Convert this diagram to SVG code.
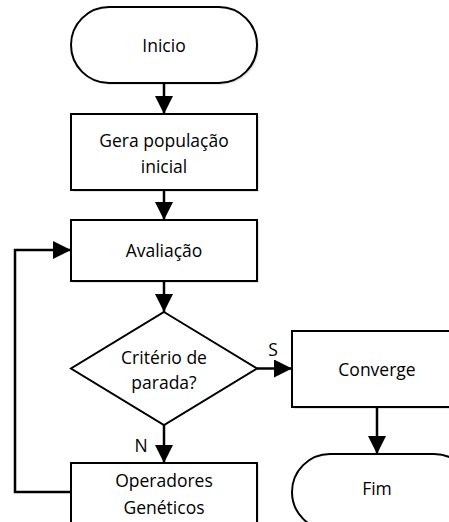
<svg xmlns="http://www.w3.org/2000/svg" width="449" height="522" viewBox="0 0 449 522">
<defs>
<style>
.s{fill:#fff;stroke:#000;stroke-width:2}
.sh{fill:#e6e6e6;stroke:none}
.t{font-family:"Open Sans","Liberation Sans",sans-serif;font-size:17.5px;fill:#000;text-anchor:middle;dominant-baseline:central}
.c{fill:none;stroke:#000;stroke-width:2.5}
</style>
<marker id="a" markerWidth="18" markerHeight="18" viewBox="0 0 18 18" refX="18" refY="9" orient="auto" markerUnits="userSpaceOnUse">
<path d="M0,0 L18,9 L0,18 Z" fill="#000"/>
</marker>
</defs>
<g id="inicio">
<rect class="sh" x="73" y="9" width="186" height="76" rx="38"/>
<rect class="s" x="71" y="7" width="186" height="76" rx="38"/>
<text class="t" x="164" y="45">Inicio</text>
</g>
<g id="gera">
<rect class="sh" x="73" y="116" width="186" height="76"/>
<rect class="s" x="71" y="114" width="186" height="76"/>
<text class="t" x="164" y="140">Gera população</text>
<text class="t" x="164" y="166">inicial</text>
</g>
<g id="avaliacao">
<rect class="sh" x="73" y="222" width="186" height="61"/>
<rect class="s" x="71" y="220" width="186" height="61"/>
<text class="t" x="164" y="250">Avaliação</text>
</g>
<g id="criterio">
<polygon class="s" points="164,312 257,368.5 164,425 71,368.5"/>
<text class="t" x="164" y="357">Critério de</text>
<text class="t" x="164" y="382">parada?</text>
</g>
<g id="converge">
<rect class="sh" x="294" y="333" width="160" height="76"/>
<rect class="s" x="292" y="331" width="160" height="76"/>
<text class="t" x="377" y="369">Converge</text>
</g>
<g id="operadores">
<rect class="sh" x="73" y="465" width="186" height="70"/>
<rect class="s" x="71" y="463" width="186" height="70"/>
<text class="t" x="164" y="480">Operadores</text>
<text class="t" x="164" y="507">Genéticos</text>
</g>
<g id="fim">
<rect class="sh" x="294" y="456" width="180" height="76" rx="38"/>
<rect class="s" x="292" y="454" width="180" height="76" rx="38"/>
<text class="t" x="377" y="488">Fim</text>
</g>
<g id="connectors">
<line class="c" x1="164" y1="83" x2="164" y2="114" marker-end="url(#a)"/>
<line class="c" x1="164" y1="190" x2="164" y2="220" marker-end="url(#a)"/>
<line class="c" x1="164" y1="281" x2="164" y2="312" marker-end="url(#a)"/>
<line class="c" x1="257" y1="368.5" x2="292" y2="368.5" marker-end="url(#a)"/>
<line class="c" x1="164" y1="425" x2="164" y2="463" marker-end="url(#a)"/>
<line class="c" x1="377" y1="407" x2="377" y2="454" marker-end="url(#a)"/>
<polyline class="c" points="71,492 15,492 15,250 71,250" marker-end="url(#a)"/>
<text class="t" x="273" y="349">S</text>
<text class="t" x="141" y="445">N</text>
</g>
</svg>
